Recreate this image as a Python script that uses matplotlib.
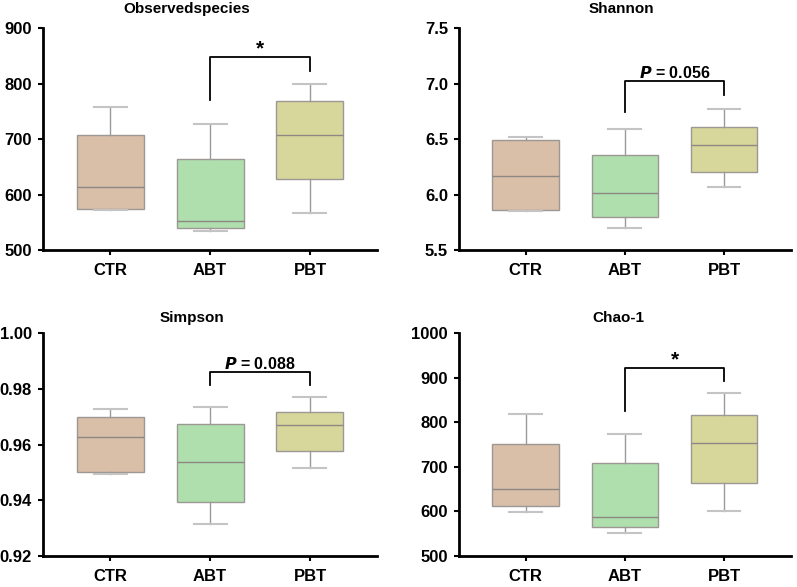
import matplotlib.pyplot as plt

plt.rcParams['font.family'] = ['Liberation Sans', 'DejaVu Sans']
plt.rcParams['font.weight'] = 'bold'

groups = ['CTR', 'ABT', 'PBT']
colors = ['#d9bea8', '#aedfad', '#d8d79b']

# five-number summaries per group: min, q1, median, q3, max
observed = [[572, 574, 614, 707, 758],
            [535, 539, 553, 665, 728],
            [566, 628, 707, 769, 800]]
shannon = [[5.85, 5.86, 6.17, 6.49, 6.52],
           [5.70, 5.80, 6.01, 6.36, 6.595],
           [6.07, 6.20, 6.45, 6.61, 6.77]]
simpson = [[0.9493, 0.9502, 0.9629, 0.9699, 0.9727],
           [0.9316, 0.9393, 0.9536, 0.9676, 0.9734],
           [0.9516, 0.9576, 0.9669, 0.9718, 0.9772]]
chao1 = [[598, 612, 650, 752, 820],
         [552, 564, 588, 708, 774],
         [602, 663, 753, 817, 866]]

titles = ['Observedspecies', 'Shannon', 'Simpson', 'Chao-1']
ylims = [(500, 900), (5.5, 7.5), (0.92, 1.00), (500, 1000)]
yticks = [[500, 600, 700, 800, 900],
          [5.5, 6.0, 6.5, 7.0, 7.5],
          [0.92, 0.94, 0.96, 0.98, 1.00],
          [500, 600, 700, 800, 900, 1000]]
ytick_fmt = ['{:.0f}', '{:.1f}', '{:.2f}', '{:.0f}']

# ABT vs PBT bracket: bar height, left leg end, right leg end, label
brackets = [(848, 770, 823, '*'),
            (7.02, 6.74, 6.90, '$\\bfit{P}$ = 0.056'),
            (0.9863, 0.9816, 0.9816, '$\\bfit{P}$ = 0.088'),
            (922, 825, 893, '*')]

fig = plt.figure(figsize=(7.97, 5.87), dpi=100)
rects = [[0.054, 0.574, 0.419, 0.378],
         [0.576, 0.574, 0.416, 0.378],
         [0.054, 0.053, 0.419, 0.379],
         [0.576, 0.053, 0.416, 0.379]]
title_x = [0.43, 0.49, 0.445, 0.48]
title_pad = [11, 11, 8.5, 8.5]

for i, data in enumerate([observed, shannon, simpson, chao1]):
    ax = fig.add_axes(rects[i])
    stats = []
    for g, d in zip(groups, data):
        stats.append(dict(label=g, whislo=d[0], q1=d[1], med=d[2], q3=d[3], whishi=d[4]))
    bp = ax.bxp(stats, positions=[0, 1, 2], widths=0.67, patch_artist=True,
                showfliers=False,
                boxprops=dict(edgecolor='#9e9894', linewidth=1.0),
                medianprops=dict(color='#8e8884', linewidth=1.0),
                whiskerprops=dict(color='#9a9a9a', linewidth=1.0),
                capprops=dict(color='#c4c4c4', linewidth=1.5),
                capwidths=0.33)
    for patch, c in zip(bp['boxes'], colors):
        patch.set_facecolor(c)

    ax.set_xlim(-0.67, 2.67)
    ax.set_ylim(*ylims[i])
    ax.set_yticks(yticks[i])
    ax.set_yticklabels([ytick_fmt[i].format(v) for v in yticks[i]])
    ax.set_xticks([0, 1, 2])
    ax.set_xticklabels(groups, fontsize=12, fontweight='bold')
    for lab in ax.get_yticklabels():
        lab.set_fontsize(12)
        lab.set_fontweight('bold')
    ax.spines['top'].set_visible(False)
    ax.spines['right'].set_visible(False)
    ax.spines['left'].set_linewidth(2)
    ax.spines['bottom'].set_linewidth(2)
    ax.tick_params(width=1.5, length=3.6, pad=4.3)
    ax.tick_params(axis='x', pad=6)
    ax.set_title(titles[i], fontsize=11, fontweight='bold', x=title_x[i], pad=title_pad[i])

    top, left_end, right_end, label = brackets[i]
    ax.plot([1, 1, 2, 2], [left_end, top, top, right_end], color='black', linewidth=1.3)
    if label == '*':
        ax.annotate(label, (1.5, top), xytext=(0, -1), textcoords='offset points',
                    ha='center', va='bottom', fontsize=15, fontweight='bold')
    else:
        ax.text(1.5, top, label, ha='center', va='bottom', fontsize=11.5,
                fontweight='bold')

fig.savefig('out.png', dpi=100)
